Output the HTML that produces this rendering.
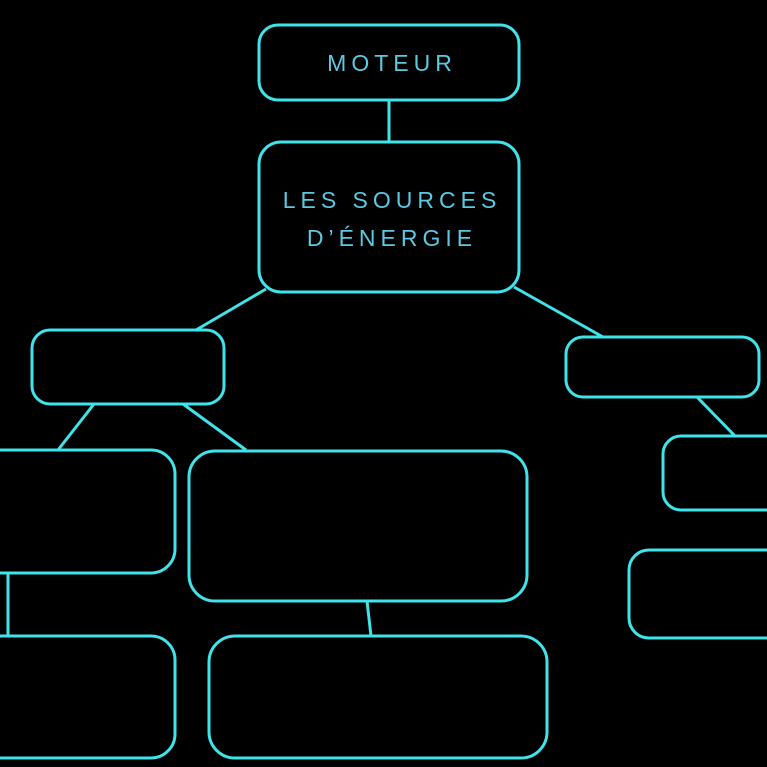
<!DOCTYPE html>
<html><head><meta charset="utf-8"><style>
html,body{margin:0;padding:0;background:#000;width:767px;height:767px;overflow:hidden}
svg{display:block}
text{font-family:"Liberation Sans",sans-serif;font-size:23px;fill:#5cc8e2;letter-spacing:5px}
</style></head><body>
<svg width="767" height="767" viewBox="0 0 767 767">
<g fill="none" stroke="#3fe3ea" stroke-width="3">
<line x1="389" y1="100" x2="389" y2="142"/>
<line x1="266" y1="289" x2="196" y2="330"/>
<line x1="514" y1="287" x2="603" y2="337"/>
<line x1="94" y1="404" x2="58" y2="450"/>
<line x1="183" y1="404" x2="246" y2="450"/>
<line x1="697" y1="397" x2="735" y2="436"/>
<line x1="8" y1="573" x2="8" y2="636"/>
<line x1="367" y1="601" x2="371" y2="636"/>
<rect x="259" y="25" width="260" height="75" rx="19"/>
<rect x="259" y="142" width="260" height="150" rx="22"/>
<rect x="32" y="330" width="192" height="74" rx="18"/>
<rect x="566" y="337" width="193" height="60" rx="17"/>
<rect x="663" y="436" width="130" height="74" rx="18"/>
<rect x="629" y="550" width="160" height="88" rx="20"/>
<rect x="-40" y="450" width="215" height="123" rx="24"/>
<rect x="189" y="451" width="338" height="150" rx="26"/>
<rect x="-40" y="636" width="215" height="122" rx="24"/>
<rect x="209" y="636" width="338" height="122" rx="26"/>
</g>
<text x="392" y="71" text-anchor="middle">MOTEUR</text>
<text x="392" y="208" text-anchor="middle">LES SOURCES</text>
<text x="392" y="246" text-anchor="middle">D’ÉNERGIE</text>
</svg>
</body></html>
